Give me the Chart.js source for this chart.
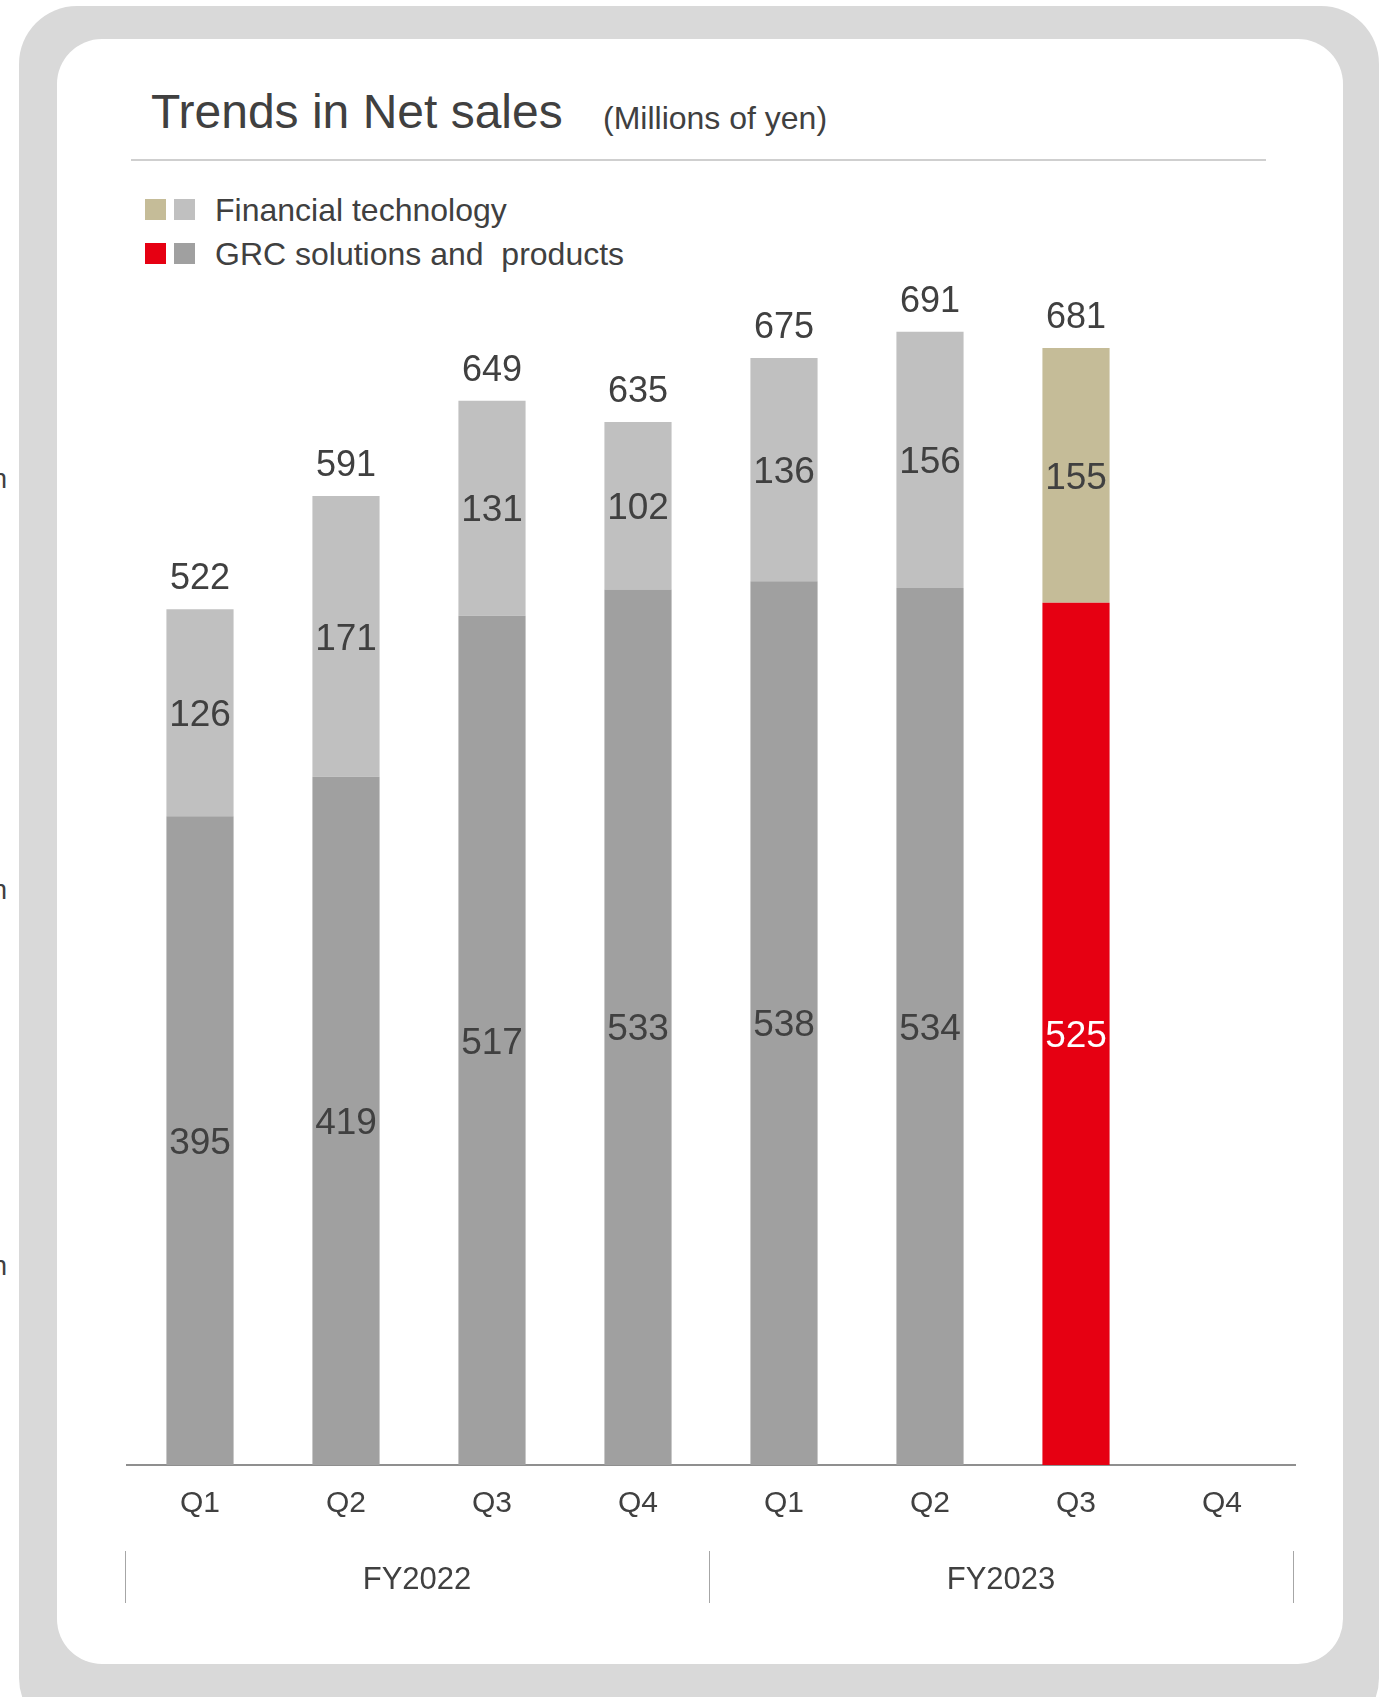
<!DOCTYPE html>
<html>
<head>
<meta charset="utf-8">
<script src="https://cdn.jsdelivr.net/npm/chart.js@4.4.0/dist/chart.umd.min.js"></script>
<style>
	body {
		margin: 0;
		width: 1384px;
		height: 1697px;
		overflow: hidden;
		background: #fff;
		font-family: 'Liberation Sans', Arial, sans-serif;
		color: #404040;
		position: relative;
	}
	.frame {
		position: absolute;
		left: 19px;
		top: 6px;
		width: 1360px;
		height: 1730px;
		background: #d9d9d9;
		border-radius: 58px;
	}
	.card {
		position: absolute;
		left: 57px;
		top: 39px;
		width: 1286px;
		height: 1625px;
		background: #fff;
		border-radius: 45px;
	}
	.title {
		position: absolute;
		left: 151px;
		top: 84px;
		font-size: 48px;
		line-height: 56px;
		white-space: pre;
	}
	.unit {
		position: absolute;
		left: 603px;
		top: 100px;
		font-size: 32px;
		line-height: 36px;
	}
	.rule {
		position: absolute;
		left: 131px;
		top: 159px;
		width: 1135px;
		height: 2px;
		background: #cfcfcf;
	}
	.legend-row {
		position: absolute;
		left: 145px;
		height: 36px;
		font-size: 32px;
		line-height: 36px;
		white-space: pre;
	}
	.legend-row span.box {
		position: absolute;
		top: 8px;
		width: 21px;
		height: 21px;
	}
	.legend-row span.text {
		position: absolute;
		left: 70px;
		top: 1px;
	}
	.cut {
		position: absolute;
		left: -8px;
		font-size: 27px;
		line-height: 30px;
	}
	canvas {
		position: absolute;
		left: 0;
		top: 0;
	}
</style>
</head>
<body>
<div class="frame"></div>
<div class="card"></div>
<div class="cut" style="top:464px">n</div>
<div class="cut" style="top:875px">n</div>
<div class="cut" style="top:1251px">n</div>
<div class="title">Trends in Net sales</div>
<div class="unit">(Millions of yen)</div>
<div class="rule"></div>
<div class="legend-row" style="top:191px">
	<span class="box" style="left:0;background:#c5bc98"></span>
	<span class="box" style="left:29px;background:#c0c0c0"></span>
	<span class="text">Financial technology</span>
</div>
<div class="legend-row" style="top:235px">
	<span class="box" style="left:0;background:#e60012"></span>
	<span class="box" style="left:29px;background:#a0a0a0"></span>
	<span class="text">GRC solutions and  products</span>
</div>
<canvas id="net_sales_chart" width="1384" height="1697"></canvas>

<script>
// quarters on the x axis, two fiscal years
const quarters = ['Q1', 'Q2', 'Q3', 'Q4', 'Q1', 'Q2', 'Q3', 'Q4']
const fiscalYears = ['FY2022', 'FY2023']

// net sales by segment (millions of yen), FY2023 Q4 not reported yet
const grcSales = [395, 419, 517, 533, 538, 534, 525, null]
const fintechSales = [126, 171, 131, 102, 136, 156, 155, null]
const totalSales = [522, 591, 649, 635, 675, 691, 681, null]

// the latest quarter is coloured
const LATEST = 6

const TEXT_COLOR = '#404040'
const FONT = "'Liberation Sans', Arial, sans-serif"

// segment values inside the bars + totals above them
const barLabels = {
	id: 'barLabels',
	afterDatasetsDraw(chart) {
		const ctx = chart.ctx
		ctx.save()
		ctx.textAlign = 'center'
		ctx.textBaseline = 'middle'
		ctx.font = `37px ${FONT}`
		chart.data.datasets.forEach((dataset, di) => {
			chart.getDatasetMeta(di).data.forEach((bar, i) => {
				const value = dataset.data[i]
				if (value == null) return
				ctx.fillStyle = di === 0 && i === LATEST ? '#ffffff' : TEXT_COLOR
				ctx.fillText(value, bar.x, (bar.y + bar.base) / 2 + 3)
			})
		})
		ctx.font = `36px ${FONT}`
		ctx.fillStyle = TEXT_COLOR
		chart.getDatasetMeta(1).data.forEach((bar, i) => {
			if (totalSales[i] == null) return
			ctx.fillText(totalSales[i], bar.x, bar.y - 30)
		})
		ctx.restore()
	},
}

// fiscal year groups under the quarter labels
const yearGroups = {
	id: 'yearGroups',
	afterDraw(chart) {
		const ctx = chart.ctx
		const x = chart.scales.x
		const area = chart.chartArea
		const split = (x.getPixelForValue(3) + x.getPixelForValue(4)) / 2
		const edges = [area.left, split, area.right]
		ctx.save()
		ctx.strokeStyle = '#a6a6a6'
		ctx.lineWidth = 1
		edges.forEach(px => {
			ctx.beginPath()
			ctx.moveTo(Math.round(px) - 1.5, 1551)
			ctx.lineTo(Math.round(px) - 1.5, 1603)
			ctx.stroke()
		})
		ctx.fillStyle = TEXT_COLOR
		ctx.font = `31px ${FONT}`
		ctx.textAlign = 'center'
		ctx.textBaseline = 'middle'
		fiscalYears.forEach((year, i) => {
			ctx.fillText(year, (edges[i] + edges[i + 1]) / 2 - 2, 1580)
		})
		ctx.restore()
	},
}

const colorsFor = (normal, latest) => quarters.map((q, i) => (i === LATEST ? latest : normal))

const ctx = document.getElementById('net_sales_chart')
new Chart(ctx, {
	type: 'bar',
	data: {
		labels: quarters,
		datasets: [
			{
				label: 'GRC solutions and products',
				data: grcSales,
				backgroundColor: colorsFor('#a0a0a0', '#e60012'),
			},
			{
				label: 'Financial technology',
				data: fintechSales,
				backgroundColor: colorsFor('#c0c0c0', '#c5bc98'),
			},
		],
	},
	options: {
		responsive: false,
		animation: false,
		barPercentage: 0.46,
		categoryPercentage: 1,
		layout: {
			padding: { left: 127, right: 89, top: 151, bottom: 152 },
		},
		plugins: {
			legend: { display: false },
			tooltip: { enabled: false },
		},
		scales: {
			x: {
				stacked: true,
				afterFit(scale) {
					scale.height = 80
				},
				grid: { display: false, drawTicks: false },
				border: { display: true, color: '#8f8f8f', width: 2 },
				ticks: {
					color: TEXT_COLOR,
					padding: 21,
					font: { family: FONT, size: 30 },
				},
			},
			y: {
				stacked: true,
				display: false,
				min: 0,
				max: 800,
			},
		},
	},
	plugins: [barLabels, yearGroups],
})
</script>
</body>
</html>
